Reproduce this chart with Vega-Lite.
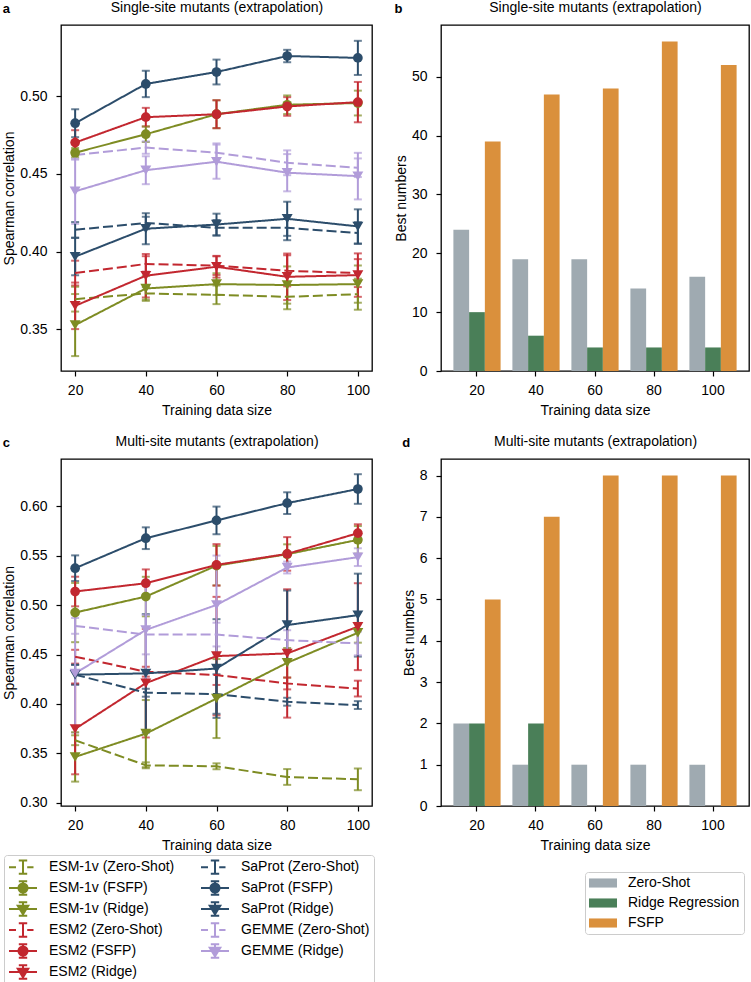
{
  "$schema": "https://vega.github.io/schema/vega-lite/v6.json",
  "padding": {"left": 2, "top": -1, "right": 2, "bottom": 0},
  "config": {
    "font": "Liberation Sans",
    "view": {"stroke": "black", "strokeWidth": 1.3},
    "axis": {"grid": false, "domain": false, "tickColor": "black", "tickSize": 5, "tickWidth": 1.2, "labelFontSize": 14, "labelColor": "black", "titleFontSize": 14, "titleFontWeight": "normal", "titleColor": "black", "labelFont": "Liberation Sans", "titleFont": "Liberation Sans"},
    "axisY": {"labelPadding": 9, "titlePadding": 3},
    "axisX": {"labelPadding": 7, "titlePadding": 6, "labelAngle": 0},
    "title": {"fontSize": 13, "fontWeight": "bold", "anchor": "start", "frame": "bounds", "color": "black", "offset": 0, "dy": 20},
    "legend": {"labelFont": "Liberation Sans"}
  },
  "datasets": {
    "lines": [
      {"panel": "a", "series": "ESM-1v (Zero-Shot)", "method": "Zero-Shot", "train_size": 20, "value": 0.3693, "err": 0.008},
      {"panel": "a", "series": "ESM-1v (Zero-Shot)", "method": "Zero-Shot", "train_size": 40, "value": 0.373, "err": 0.004},
      {"panel": "a", "series": "ESM-1v (Zero-Shot)", "method": "Zero-Shot", "train_size": 60, "value": 0.3721, "err": 0.006},
      {"panel": "a", "series": "ESM-1v (Zero-Shot)", "method": "Zero-Shot", "train_size": 80, "value": 0.3708, "err": 0.008},
      {"panel": "a", "series": "ESM-1v (Zero-Shot)", "method": "Zero-Shot", "train_size": 100, "value": 0.3725, "err": 0.010},
      {"panel": "a", "series": "ESM-1v (FSFP)", "method": "FSFP", "train_size": 20, "value": 0.4637, "err": 0.003},
      {"panel": "a", "series": "ESM-1v (FSFP)", "method": "FSFP", "train_size": 40, "value": 0.4756, "err": 0.005},
      {"panel": "a", "series": "ESM-1v (FSFP)", "method": "FSFP", "train_size": 60, "value": 0.4885, "err": 0.009},
      {"panel": "a", "series": "ESM-1v (FSFP)", "method": "FSFP", "train_size": 80, "value": 0.4946, "err": 0.006},
      {"panel": "a", "series": "ESM-1v (FSFP)", "method": "FSFP", "train_size": 100, "value": 0.4957, "err": 0.008},
      {"panel": "a", "series": "ESM-1v (Ridge)", "method": "Ridge", "train_size": 20, "value": 0.3526, "err": 0.020},
      {"panel": "a", "series": "ESM-1v (Ridge)", "method": "Ridge", "train_size": 40, "value": 0.3762, "err": 0.008},
      {"panel": "a", "series": "ESM-1v (Ridge)", "method": "Ridge", "train_size": 60, "value": 0.379, "err": 0.007},
      {"panel": "a", "series": "ESM-1v (Ridge)", "method": "Ridge", "train_size": 80, "value": 0.3784, "err": 0.012},
      {"panel": "a", "series": "ESM-1v (Ridge)", "method": "Ridge", "train_size": 100, "value": 0.379, "err": 0.012},
      {"panel": "a", "series": "ESM2 (Zero-Shot)", "method": "Zero-Shot", "train_size": 20, "value": 0.3861, "err": 0.008},
      {"panel": "a", "series": "ESM2 (Zero-Shot)", "method": "Zero-Shot", "train_size": 40, "value": 0.392, "err": 0.005},
      {"panel": "a", "series": "ESM2 (Zero-Shot)", "method": "Zero-Shot", "train_size": 60, "value": 0.3909, "err": 0.006},
      {"panel": "a", "series": "ESM2 (Zero-Shot)", "method": "Zero-Shot", "train_size": 80, "value": 0.3876, "err": 0.010},
      {"panel": "a", "series": "ESM2 (Zero-Shot)", "method": "Zero-Shot", "train_size": 100, "value": 0.3861, "err": 0.009},
      {"panel": "a", "series": "ESM2 (FSFP)", "method": "FSFP", "train_size": 20, "value": 0.4702, "err": 0.008},
      {"panel": "a", "series": "ESM2 (FSFP)", "method": "FSFP", "train_size": 40, "value": 0.4866, "err": 0.006},
      {"panel": "a", "series": "ESM2 (FSFP)", "method": "FSFP", "train_size": 60, "value": 0.4885, "err": 0.009},
      {"panel": "a", "series": "ESM2 (FSFP)", "method": "FSFP", "train_size": 80, "value": 0.4935, "err": 0.006},
      {"panel": "a", "series": "ESM2 (FSFP)", "method": "FSFP", "train_size": 100, "value": 0.4963, "err": 0.013},
      {"panel": "a", "series": "ESM2 (Ridge)", "method": "Ridge", "train_size": 20, "value": 0.365, "err": 0.015},
      {"panel": "a", "series": "ESM2 (Ridge)", "method": "Ridge", "train_size": 40, "value": 0.3844, "err": 0.014},
      {"panel": "a", "series": "ESM2 (Ridge)", "method": "Ridge", "train_size": 60, "value": 0.3902, "err": 0.007},
      {"panel": "a", "series": "ESM2 (Ridge)", "method": "Ridge", "train_size": 80, "value": 0.3837, "err": 0.015},
      {"panel": "a", "series": "ESM2 (Ridge)", "method": "Ridge", "train_size": 100, "value": 0.3848, "err": 0.014},
      {"panel": "a", "series": "SaProt (Zero-Shot)", "method": "Zero-Shot", "train_size": 20, "value": 0.414, "err": 0.005},
      {"panel": "a", "series": "SaProt (Zero-Shot)", "method": "Zero-Shot", "train_size": 40, "value": 0.4184, "err": 0.004},
      {"panel": "a", "series": "SaProt (Zero-Shot)", "method": "Zero-Shot", "train_size": 60, "value": 0.4153, "err": 0.005},
      {"panel": "a", "series": "SaProt (Zero-Shot)", "method": "Zero-Shot", "train_size": 80, "value": 0.4153, "err": 0.008},
      {"panel": "a", "series": "SaProt (Zero-Shot)", "method": "Zero-Shot", "train_size": 100, "value": 0.4119, "err": 0.007},
      {"panel": "a", "series": "SaProt (FSFP)", "method": "FSFP", "train_size": 20, "value": 0.4827, "err": 0.009},
      {"panel": "a", "series": "SaProt (FSFP)", "method": "FSFP", "train_size": 40, "value": 0.508, "err": 0.0085},
      {"panel": "a", "series": "SaProt (FSFP)", "method": "FSFP", "train_size": 60, "value": 0.5157, "err": 0.008},
      {"panel": "a", "series": "SaProt (FSFP)", "method": "FSFP", "train_size": 80, "value": 0.526, "err": 0.004},
      {"panel": "a", "series": "SaProt (FSFP)", "method": "FSFP", "train_size": 100, "value": 0.5248, "err": 0.011},
      {"panel": "a", "series": "SaProt (Ridge)", "method": "Ridge", "train_size": 20, "value": 0.3967, "err": 0.012},
      {"panel": "a", "series": "SaProt (Ridge)", "method": "Ridge", "train_size": 40, "value": 0.4147, "err": 0.010},
      {"panel": "a", "series": "SaProt (Ridge)", "method": "Ridge", "train_size": 60, "value": 0.4174, "err": 0.007},
      {"panel": "a", "series": "SaProt (Ridge)", "method": "Ridge", "train_size": 80, "value": 0.4211, "err": 0.011},
      {"panel": "a", "series": "SaProt (Ridge)", "method": "Ridge", "train_size": 100, "value": 0.4162, "err": 0.011},
      {"panel": "a", "series": "GEMME (Zero-Shot)", "method": "Zero-Shot", "train_size": 20, "value": 0.4622, "err": 0.003},
      {"panel": "a", "series": "GEMME (Zero-Shot)", "method": "Zero-Shot", "train_size": 40, "value": 0.467, "err": 0.004},
      {"panel": "a", "series": "GEMME (Zero-Shot)", "method": "Zero-Shot", "train_size": 60, "value": 0.4637, "err": 0.006},
      {"panel": "a", "series": "GEMME (Zero-Shot)", "method": "Zero-Shot", "train_size": 80, "value": 0.4572, "err": 0.008},
      {"panel": "a", "series": "GEMME (Zero-Shot)", "method": "Zero-Shot", "train_size": 100, "value": 0.454, "err": 0.006},
      {"panel": "a", "series": "GEMME (Ridge)", "method": "Ridge", "train_size": 20, "value": 0.4388, "err": 0.021},
      {"panel": "a", "series": "GEMME (Ridge)", "method": "Ridge", "train_size": 40, "value": 0.4524, "err": 0.009},
      {"panel": "a", "series": "GEMME (Ridge)", "method": "Ridge", "train_size": 60, "value": 0.4579, "err": 0.011},
      {"panel": "a", "series": "GEMME (Ridge)", "method": "Ridge", "train_size": 80, "value": 0.4508, "err": 0.012},
      {"panel": "a", "series": "GEMME (Ridge)", "method": "Ridge", "train_size": 100, "value": 0.4486, "err": 0.015},

      {"panel": "c", "series": "ESM-1v (Zero-Shot)", "method": "Zero-Shot", "train_size": 20, "value": 0.3632, "err": 0.005},
      {"panel": "c", "series": "ESM-1v (Zero-Shot)", "method": "Zero-Shot", "train_size": 40, "value": 0.3378, "err": 0.003},
      {"panel": "c", "series": "ESM-1v (Zero-Shot)", "method": "Zero-Shot", "train_size": 60, "value": 0.3368, "err": 0.003},
      {"panel": "c", "series": "ESM-1v (Zero-Shot)", "method": "Zero-Shot", "train_size": 80, "value": 0.326, "err": 0.008},
      {"panel": "c", "series": "ESM-1v (Zero-Shot)", "method": "Zero-Shot", "train_size": 100, "value": 0.3236, "err": 0.011},
      {"panel": "c", "series": "ESM-1v (FSFP)", "method": "FSFP", "train_size": 20, "value": 0.4925, "err": 0.03},
      {"panel": "c", "series": "ESM-1v (FSFP)", "method": "FSFP", "train_size": 40, "value": 0.5087, "err": 0.02},
      {"panel": "c", "series": "ESM-1v (FSFP)", "method": "FSFP", "train_size": 60, "value": 0.540, "err": 0.02},
      {"panel": "c", "series": "ESM-1v (FSFP)", "method": "FSFP", "train_size": 80, "value": 0.5516, "err": 0.01},
      {"panel": "c", "series": "ESM-1v (FSFP)", "method": "FSFP", "train_size": 100, "value": 0.5661, "err": 0.014},
      {"panel": "c", "series": "ESM-1v (Ridge)", "method": "Ridge", "train_size": 20, "value": 0.3463, "err": 0.025},
      {"panel": "c", "series": "ESM-1v (Ridge)", "method": "Ridge", "train_size": 40, "value": 0.3699, "err": 0.034},
      {"panel": "c", "series": "ESM-1v (Ridge)", "method": "Ridge", "train_size": 60, "value": 0.4054, "err": 0.04},
      {"panel": "c", "series": "ESM-1v (Ridge)", "method": "Ridge", "train_size": 80, "value": 0.4416, "err": 0.015},
      {"panel": "c", "series": "ESM-1v (Ridge)", "method": "Ridge", "train_size": 100, "value": 0.472, "err": 0.01},
      {"panel": "c", "series": "ESM2 (Zero-Shot)", "method": "Zero-Shot", "train_size": 20, "value": 0.4478, "err": 0.007},
      {"panel": "c", "series": "ESM2 (Zero-Shot)", "method": "Zero-Shot", "train_size": 40, "value": 0.4326, "err": 0.005},
      {"panel": "c", "series": "ESM2 (Zero-Shot)", "method": "Zero-Shot", "train_size": 60, "value": 0.4292, "err": 0.01},
      {"panel": "c", "series": "ESM2 (Zero-Shot)", "method": "Zero-Shot", "train_size": 80, "value": 0.4207, "err": 0.006},
      {"panel": "c", "series": "ESM2 (Zero-Shot)", "method": "Zero-Shot", "train_size": 100, "value": 0.4155, "err": 0.008},
      {"panel": "c", "series": "ESM2 (FSFP)", "method": "FSFP", "train_size": 20, "value": 0.5138, "err": 0.015},
      {"panel": "c", "series": "ESM2 (FSFP)", "method": "FSFP", "train_size": 40, "value": 0.5222, "err": 0.014},
      {"panel": "c", "series": "ESM2 (FSFP)", "method": "FSFP", "train_size": 60, "value": 0.5408, "err": 0.021},
      {"panel": "c", "series": "ESM2 (FSFP)", "method": "FSFP", "train_size": 80, "value": 0.5519, "err": 0.017},
      {"panel": "c", "series": "ESM2 (FSFP)", "method": "FSFP", "train_size": 100, "value": 0.5729, "err": 0.009},
      {"panel": "c", "series": "ESM2 (Ridge)", "method": "Ridge", "train_size": 20, "value": 0.3747, "err": 0.046},
      {"panel": "c", "series": "ESM2 (Ridge)", "method": "Ridge", "train_size": 40, "value": 0.421, "err": 0.055},
      {"panel": "c", "series": "ESM2 (Ridge)", "method": "Ridge", "train_size": 60, "value": 0.4484, "err": 0.06},
      {"panel": "c", "series": "ESM2 (Ridge)", "method": "Ridge", "train_size": 80, "value": 0.4511, "err": 0.065},
      {"panel": "c", "series": "ESM2 (Ridge)", "method": "Ridge", "train_size": 100, "value": 0.4782, "err": 0.044},
      {"panel": "c", "series": "SaProt (Zero-Shot)", "method": "Zero-Shot", "train_size": 20, "value": 0.4296, "err": 0.01},
      {"panel": "c", "series": "SaProt (Zero-Shot)", "method": "Zero-Shot", "train_size": 40, "value": 0.4113, "err": 0.004},
      {"panel": "c", "series": "SaProt (Zero-Shot)", "method": "Zero-Shot", "train_size": 60, "value": 0.41, "err": 0.02},
      {"panel": "c", "series": "SaProt (Zero-Shot)", "method": "Zero-Shot", "train_size": 80, "value": 0.4022, "err": 0.004},
      {"panel": "c", "series": "SaProt (Zero-Shot)", "method": "Zero-Shot", "train_size": 100, "value": 0.3988, "err": 0.004},
      {"panel": "c", "series": "SaProt (FSFP)", "method": "FSFP", "train_size": 20, "value": 0.5374, "err": 0.013},
      {"panel": "c", "series": "SaProt (FSFP)", "method": "FSFP", "train_size": 40, "value": 0.5678, "err": 0.011},
      {"panel": "c", "series": "SaProt (FSFP)", "method": "FSFP", "train_size": 60, "value": 0.5858, "err": 0.014},
      {"panel": "c", "series": "SaProt (FSFP)", "method": "FSFP", "train_size": 80, "value": 0.6033, "err": 0.011},
      {"panel": "c", "series": "SaProt (FSFP)", "method": "FSFP", "train_size": 100, "value": 0.6176, "err": 0.015},
      {"panel": "c", "series": "SaProt (Ridge)", "method": "Ridge", "train_size": 20, "value": 0.4296, "err": 0.01},
      {"panel": "c", "series": "SaProt (Ridge)", "method": "Ridge", "train_size": 40, "value": 0.4309, "err": 0.06},
      {"panel": "c", "series": "SaProt (Ridge)", "method": "Ridge", "train_size": 60, "value": 0.4358, "err": 0.05},
      {"panel": "c", "series": "SaProt (Ridge)", "method": "Ridge", "train_size": 80, "value": 0.4798, "err": 0.035},
      {"panel": "c", "series": "SaProt (Ridge)", "method": "Ridge", "train_size": 100, "value": 0.4899, "err": 0.042},
      {"panel": "c", "series": "GEMME (Zero-Shot)", "method": "Zero-Shot", "train_size": 20, "value": 0.479, "err": 0.008},
      {"panel": "c", "series": "GEMME (Zero-Shot)", "method": "Zero-Shot", "train_size": 40, "value": 0.4702, "err": 0.02},
      {"panel": "c", "series": "GEMME (Zero-Shot)", "method": "Zero-Shot", "train_size": 60, "value": 0.4702, "err": 0.012},
      {"panel": "c", "series": "GEMME (Zero-Shot)", "method": "Zero-Shot", "train_size": 80, "value": 0.4646, "err": 0.01},
      {"panel": "c", "series": "GEMME (Zero-Shot)", "method": "Zero-Shot", "train_size": 100, "value": 0.4612, "err": 0.012},
      {"panel": "c", "series": "GEMME (Ridge)", "method": "Ridge", "train_size": 20, "value": 0.4309, "err": 0.06},
      {"panel": "c", "series": "GEMME (Ridge)", "method": "Ridge", "train_size": 40, "value": 0.4749, "err": 0.05},
      {"panel": "c", "series": "GEMME (Ridge)", "method": "Ridge", "train_size": 60, "value": 0.5002, "err": 0.05},
      {"panel": "c", "series": "GEMME (Ridge)", "method": "Ridge", "train_size": 80, "value": 0.5381, "err": 0.006},
      {"panel": "c", "series": "GEMME (Ridge)", "method": "Ridge", "train_size": 100, "value": 0.5486, "err": 0.009}
    ],
    "bars": [
      {"panel": "b", "train_size": 20, "method": "Zero-Shot", "count": 24},
      {"panel": "b", "train_size": 40, "method": "Zero-Shot", "count": 19},
      {"panel": "b", "train_size": 60, "method": "Zero-Shot", "count": 19},
      {"panel": "b", "train_size": 80, "method": "Zero-Shot", "count": 14},
      {"panel": "b", "train_size": 100, "method": "Zero-Shot", "count": 16},
      {"panel": "b", "train_size": 20, "method": "Ridge Regression", "count": 10},
      {"panel": "b", "train_size": 40, "method": "Ridge Regression", "count": 6},
      {"panel": "b", "train_size": 60, "method": "Ridge Regression", "count": 4},
      {"panel": "b", "train_size": 80, "method": "Ridge Regression", "count": 4},
      {"panel": "b", "train_size": 100, "method": "Ridge Regression", "count": 4},
      {"panel": "b", "train_size": 20, "method": "FSFP", "count": 39},
      {"panel": "b", "train_size": 40, "method": "FSFP", "count": 47},
      {"panel": "b", "train_size": 60, "method": "FSFP", "count": 48},
      {"panel": "b", "train_size": 80, "method": "FSFP", "count": 56},
      {"panel": "b", "train_size": 100, "method": "FSFP", "count": 52},
      {"panel": "d", "train_size": 20, "method": "Zero-Shot", "count": 2},
      {"panel": "d", "train_size": 40, "method": "Zero-Shot", "count": 1},
      {"panel": "d", "train_size": 60, "method": "Zero-Shot", "count": 1},
      {"panel": "d", "train_size": 80, "method": "Zero-Shot", "count": 1},
      {"panel": "d", "train_size": 100, "method": "Zero-Shot", "count": 1},
      {"panel": "d", "train_size": 20, "method": "Ridge Regression", "count": 2},
      {"panel": "d", "train_size": 40, "method": "Ridge Regression", "count": 2},
      {"panel": "d", "train_size": 60, "method": "Ridge Regression", "count": 0},
      {"panel": "d", "train_size": 80, "method": "Ridge Regression", "count": 0},
      {"panel": "d", "train_size": 100, "method": "Ridge Regression", "count": 0},
      {"panel": "d", "train_size": 20, "method": "FSFP", "count": 5},
      {"panel": "d", "train_size": 40, "method": "FSFP", "count": 7},
      {"panel": "d", "train_size": 60, "method": "FSFP", "count": 8},
      {"panel": "d", "train_size": 80, "method": "FSFP", "count": 8},
      {"panel": "d", "train_size": 100, "method": "FSFP", "count": 8}
    ]
  },
  "columns": 2,
  "bounds": "flush",
  "align": "each",
  "spacing": {"row": 88, "column": 69},
  "resolve": {
    "scale": {"color": "independent", "x": "independent", "y": "independent", "shape": "independent", "strokeDash": "independent", "size": "independent", "xOffset": "independent"},
    "legend": {"color": "independent"}
  },
  "concat": [
    {
      "width": 311, "height": 346,
      "title": {"text": "a"},
      "data": {"name": "lines"},
      "transform": [{"filter": "datum.panel == 'a'"}],
      "resolve": {"axis": {"x": "independent"}},
      "layer": [
        {
          "mark": {"type": "errorbar", "ticks": true, "size": 8, "thickness": 2},
          "encoding": {
            "x": {"field": "train_size", "type": "quantitative", "scale": {"domain": [16, 104], "nice": false, "zero": false}, "axis": {"title": "Training data size", "values": [20, 40, 60, 80, 100]}},
            "y": {"field": "value", "type": "quantitative", "scale": {"domain": [0.323, 0.546], "nice": false, "zero": false}, "axis": {"title": "Spearman correlation", "values": [0.35, 0.4, 0.45, 0.5], "format": ".2f"}},
            "yError": {"field": "err"},
            "color": {"field": "series", "type": "nominal", "legend": null,
              "scale": {"domain": ["ESM-1v (Zero-Shot)", "ESM-1v (FSFP)", "ESM-1v (Ridge)", "ESM2 (Zero-Shot)", "ESM2 (FSFP)", "ESM2 (Ridge)", "SaProt (Zero-Shot)", "SaProt (FSFP)", "SaProt (Ridge)", "GEMME (Zero-Shot)", "GEMME (Ridge)"],
                        "range": ["#7E8C23", "#7E8C23", "#7E8C23", "#C2272F", "#C2272F", "#C2272F", "#2C4D6B", "#2C4D6B", "#2C4D6B", "#B19CD9", "#B19CD9"]}}
          }
        },
        {
          "mark": {"type": "line", "strokeWidth": 2},
          "encoding": {
            "x": {"field": "train_size", "type": "quantitative", "axis": null},
            "y": {"field": "value", "type": "quantitative"},
            "color": {"field": "series", "type": "nominal", "legend": null},
            "strokeDash": {"field": "method", "type": "nominal", "legend": null, "scale": {"domain": ["Zero-Shot", "FSFP", "Ridge"], "range": [[10, 4], [1, 0], [1, 0]]}}
          }
        },
        {
          "transform": [{"filter": "datum.method != 'Zero-Shot'"}],
          "mark": {"type": "point", "filled": true, "opacity": 1},
          "encoding": {
            "x": {"field": "train_size", "type": "quantitative", "axis": {"orient": "top", "title": "Single-site mutants (extrapolation)", "labels": false, "ticks": false, "domain": false, "titlePadding": 11}},
            "y": {"field": "value", "type": "quantitative"},
            "color": {"field": "series", "type": "nominal", "legend": null},
            "shape": {"field": "method", "type": "nominal", "legend": null, "scale": {"domain": ["FSFP", "Ridge"], "range": ["circle", "triangle-down"]}},
            "size": {"field": "method", "type": "nominal", "legend": null, "scale": {"domain": ["FSFP", "Ridge"], "range": [95, 120]}}
          }
        }
      ]
    },
    {
      "width": 308, "height": 346,
      "title": {"text": "b"},
      "data": {"name": "bars"},
      "transform": [{"filter": "datum.panel == 'b'"}],
      "resolve": {"axis": {"x": "independent"}},
      "layer": [
        {
          "transform": [{"filter": "datum.method != 'FSFP'"}],
          "mark": {"type": "bar"},
          "encoding": {
            "x": {"field": "train_size", "type": "ordinal", "scale": {"domain": [20, 40, 60, 80, 100], "paddingInner": 0.2, "paddingOuter": 0.21}, "axis": {"title": "Training data size"}},
            "xOffset": {"field": "method", "type": "nominal", "scale": {"domain": ["Zero-Shot", "Ridge Regression", "FSFP"], "paddingInner": 0, "paddingOuter": 0}},
            "y": {"field": "count", "type": "quantitative", "scale": {"domain": [0, 58.8], "nice": false}, "axis": {"title": "Best numbers", "values": [0, 10, 20, 30, 40, 50]}},
            "color": {"field": "method", "type": "nominal", "legend": null, "scale": {"domain": ["Zero-Shot", "Ridge Regression", "FSFP"], "range": ["#9FAAB1", "#4A7F58", "#DA903C"]}}
          }
        },
        {
          "transform": [{"filter": "datum.method == 'FSFP'"}],
          "mark": {"type": "bar"},
          "encoding": {
            "x": {"field": "train_size", "type": "ordinal", "axis": {"orient": "top", "title": "Single-site mutants (extrapolation)", "labels": false, "ticks": false, "domain": false, "titlePadding": 11}},
            "xOffset": {"field": "method", "type": "nominal"},
            "y": {"field": "count", "type": "quantitative"},
            "color": {"field": "method", "type": "nominal", "legend": null}
          }
        }
      ]
    },
    {
      "width": 311, "height": 347,
      "title": {"text": "c"},
      "data": {"name": "lines"},
      "transform": [{"filter": "datum.panel == 'c'"}],
      "resolve": {"axis": {"x": "independent"}},
      "layer": [
        {
          "mark": {"type": "errorbar", "ticks": true, "size": 8, "thickness": 2},
          "encoding": {
            "x": {"field": "train_size", "type": "quantitative", "scale": {"domain": [16, 104], "nice": false, "zero": false}, "axis": {"title": "Training data size", "values": [20, 40, 60, 80, 100]}},
            "y": {"field": "value", "type": "quantitative", "scale": {"domain": [0.2966, 0.648], "nice": false, "zero": false}, "axis": {"title": "Spearman correlation", "values": [0.3, 0.35, 0.4, 0.45, 0.5, 0.55, 0.6], "format": ".2f"}},
            "yError": {"field": "err"},
            "color": {"field": "series", "type": "nominal",
              "scale": {"domain": ["ESM-1v (Zero-Shot)", "ESM-1v (FSFP)", "ESM-1v (Ridge)", "ESM2 (Zero-Shot)", "ESM2 (FSFP)", "ESM2 (Ridge)", "SaProt (Zero-Shot)", "SaProt (FSFP)", "SaProt (Ridge)", "GEMME (Zero-Shot)", "GEMME (Ridge)"],
                        "range": ["#7E8C23", "#7E8C23", "#7E8C23", "#C2272F", "#C2272F", "#C2272F", "#2C4D6B", "#2C4D6B", "#2C4D6B", "#B19CD9", "#B19CD9"]},
              "legend": {
                "title": null, "orient": "none", "legendX": -57, "legendY": 396, "columns": 2,
                "symbolSize": 196, "symbolStrokeWidth": 2, "labelFontSize": 14, "labelColor": "black", "labelOffset": 25, "labelLimit": 300,
                "rowPadding": -1, "columnPadding": 22, "padding": 4, "strokeColor": "#cccccc", "cornerRadius": 3, "fillColor": "white",
                "encode": {"symbols": {"update": {
                  "shape": {"signal": "indexof(datum.value, 'Zero-Shot') >= 0 ? 'M-1,0H0M1.6,0H2.5M1,-0.95V0.95M0.4,-0.95H1.6M0.4,0.95H1.6' : indexof(datum.value, 'FSFP') >= 0 ? 'M-1,0H3M1,-0.95V0.95M0.4,-0.95H1.6M0.4,0.95H1.6M1.65,0A0.65,0.65,0,1,1,0.35,0A0.65,0.65,0,1,1,1.65,0Z' : 'M-1,0H3M1,-0.95V0.95M0.4,-0.95H1.6M0.4,0.95H1.6M0.25,-0.45H1.75L1,0.75Z'"},
                  "fill": {"signal": "indexof(datum.value, 'ESM-1v') == 0 ? '#7E8C23' : indexof(datum.value, 'ESM2') == 0 ? '#C2272F' : indexof(datum.value, 'SaProt') == 0 ? '#2C4D6B' : '#B19CD9'"},
                  "stroke": {"signal": "indexof(datum.value, 'ESM-1v') == 0 ? '#7E8C23' : indexof(datum.value, 'ESM2') == 0 ? '#C2272F' : indexof(datum.value, 'SaProt') == 0 ? '#2C4D6B' : '#B19CD9'"},
                  "strokeDash": {"value": []},
                  "opacity": {"value": 1},
                  "fillOpacity": {"value": 1},
                  "strokeOpacity": {"value": 1},
                  "strokeWidth": {"value": 2},
                  "size": {"value": 196}
                }}}
              }}
          }
        },
        {
          "mark": {"type": "line", "strokeWidth": 2},
          "encoding": {
            "x": {"field": "train_size", "type": "quantitative", "axis": null},
            "y": {"field": "value", "type": "quantitative"},
            "color": {"field": "series", "type": "nominal", "legend": null},
            "strokeDash": {"field": "method", "type": "nominal", "legend": null, "scale": {"domain": ["Zero-Shot", "FSFP", "Ridge"], "range": [[10, 4], [1, 0], [1, 0]]}}
          }
        },
        {
          "transform": [{"filter": "datum.method != 'Zero-Shot'"}],
          "mark": {"type": "point", "filled": true, "opacity": 1},
          "encoding": {
            "x": {"field": "train_size", "type": "quantitative", "axis": {"orient": "top", "title": "Multi-site mutants (extrapolation)", "labels": false, "ticks": false, "domain": false, "titlePadding": 11}},
            "y": {"field": "value", "type": "quantitative"},
            "color": {"field": "series", "type": "nominal", "legend": null},
            "shape": {"field": "method", "type": "nominal", "legend": null, "scale": {"domain": ["FSFP", "Ridge"], "range": ["circle", "triangle-down"]}},
            "size": {"field": "method", "type": "nominal", "legend": null, "scale": {"domain": ["FSFP", "Ridge"], "range": [95, 120]}}
          }
        }
      ]
    },
    {
      "width": 308, "height": 347,
      "title": {"text": "d"},
      "data": {"name": "bars"},
      "transform": [{"filter": "datum.panel == 'd'"}],
      "resolve": {"axis": {"x": "independent"}},
      "layer": [
        {
          "transform": [{"filter": "datum.method != 'FSFP'"}],
          "mark": {"type": "bar"},
          "encoding": {
            "x": {"field": "train_size", "type": "ordinal", "scale": {"domain": [20, 40, 60, 80, 100], "paddingInner": 0.2, "paddingOuter": 0.21}, "axis": {"title": "Training data size"}},
            "xOffset": {"field": "method", "type": "nominal", "scale": {"domain": ["Zero-Shot", "Ridge Regression", "FSFP"], "paddingInner": 0, "paddingOuter": 0}},
            "y": {"field": "count", "type": "quantitative", "scale": {"domain": [0, 8.4], "nice": false}, "axis": {"title": "Best numbers", "values": [0, 1, 2, 3, 4, 5, 6, 7, 8]}},
            "color": {"field": "method", "type": "nominal", "scale": {"domain": ["Zero-Shot", "Ridge Regression", "FSFP"], "range": ["#9FAAB1", "#4A7F58", "#DA903C"]},
              "legend": {"title": null, "orient": "none", "legendX": 144, "legendY": 413,
                "symbolType": "M-1,-0.65H3V0.65H-1Z", "symbolSize": 196, "symbolStrokeWidth": 0, "symbolOpacity": 1,
                "labelFontSize": 14, "labelColor": "black", "labelOffset": 25, "rowPadding": 6, "padding": 4,
                "strokeColor": "#cccccc", "cornerRadius": 3, "fillColor": "white"}}
          }
        },
        {
          "transform": [{"filter": "datum.method == 'FSFP'"}],
          "mark": {"type": "bar"},
          "encoding": {
            "x": {"field": "train_size", "type": "ordinal", "axis": {"orient": "top", "title": "Multi-site mutants (extrapolation)", "labels": false, "ticks": false, "domain": false, "titlePadding": 11}},
            "xOffset": {"field": "method", "type": "nominal"},
            "y": {"field": "count", "type": "quantitative"},
            "color": {"field": "method", "type": "nominal", "legend": null}
          }
        }
      ]
    }
  ]
}
